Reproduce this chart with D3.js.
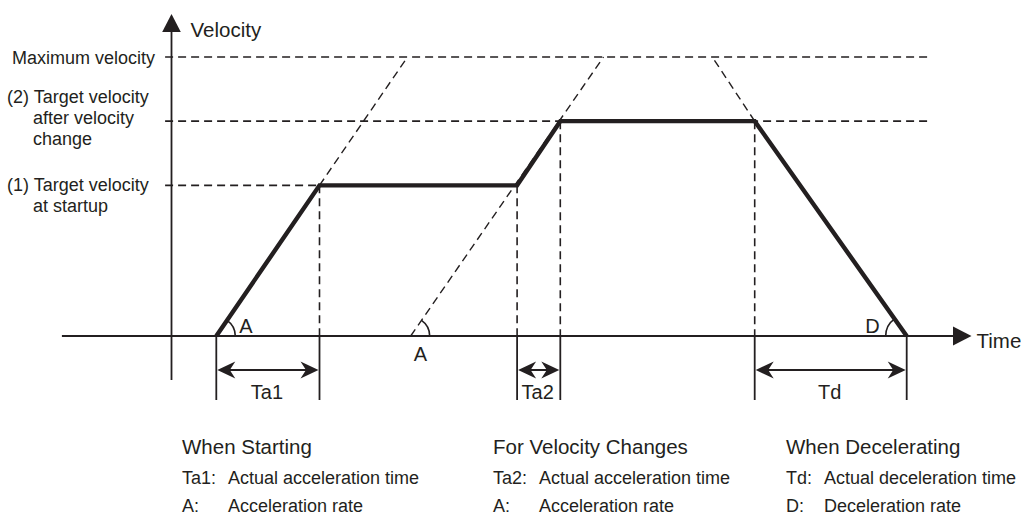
<!DOCTYPE html>
<html>
<head>
<meta charset="utf-8">
<script src="https://cdn.jsdelivr.net/npm/d3@7"></script>
<style>
  html, body { margin: 0; padding: 0; background: #ffffff; }
  svg { display: block; }
  text { font-family: "Liberation Sans", Arial, Helvetica, sans-serif; fill: #231f20; }
</style>
</head>
<body>
<svg id="chart" width="1021" height="515"></svg>
<script>
// ---------------- data ----------------
// time axis: 0 at velocity axis, 100 at time-arrow tip; velocity: 0 at time axis, 100 = maximum velocity
const timeAxisExtent = [-13.7, 100];
const velocityAxisExtent = [-15.8, 115.4];

const levelValues = [100, 77, 54];
const levelLabels = [
  ["Maximum velocity"],
  ["(2) Target velocity", "after velocity", "change"],
  ["(1) Target velocity", "at startup"]
];
const levelStartTime = [-0.8, -0.8, -0.8];
const levelEndTime = [94.6, 94.6, 18.5];

const profileTime = [5.6, 18.5, 43.2, 48.6, 72.9, 91.9];
const profileVelocity = [0, 54, 54, 77, 77, 0];

// dashed extensions of the acceleration / deceleration slopes
const slopeTime = [[18.5, 29.5], [29.9, 54.0], [72.9, 67.6]];
const slopeVelocity = [[54, 100], [0, 100], [77, 100]];

// dashed vertical drop lines
const dropTime = [18.5, 43.2, 48.6, 72.9];
const dropVelocity = [54, 54, 77, 77];

// dimensioned time intervals
const intervalNames = ["Ta1", "Ta2", "Td"];
const intervalStart = [5.6, 43.2, 72.9];
const intervalEnd = [18.5, 48.6, 91.9];

// angle marks
const angleNames = ["A", "A", "D"];
const angleTime = [5.6, 29.9, 91.9];
const angleTowardTime = [18.5, 54.0, 72.9];
const angleTowardVelocity = [54, 100, 77];

// legend below the chart
const legendTitles = ["When Starting", "For Velocity Changes", "When Decelerating"];
const legendKeys = [["Ta1:", "A:"], ["Ta2:", "A:"], ["Td:", "D:"]];
const legendTexts = [
  ["Actual acceleration time", "Acceleration rate"],
  ["Actual acceleration time", "Acceleration rate"],
  ["Actual deceleration time", "Deceleration rate"]
];

// ---------------- drawing ----------------
const ink = "#231f20";
const svg = d3.select("#chart");

const x = d3.scaleLinear().domain([0, 100]).range([171.5, 971.5]);
const y = d3.scaleLinear().domain([0, 100]).range([336, 57]);

const dash = "8,5";

// horizontal level dashed lines
levelValues.forEach((v, i) => {
  svg.append("line")
    .attr("x1", x(levelStartTime[i])).attr("x2", x(levelEndTime[i]))
    .attr("y1", y(v)).attr("y2", y(v))
    .attr("stroke", ink).attr("stroke-width", 1.6).attr("stroke-dasharray", dash);
});

// slope extension dashed lines
slopeTime.forEach((ts, i) => {
  svg.append("line")
    .attr("x1", x(ts[0])).attr("y1", y(slopeVelocity[i][0]))
    .attr("x2", x(ts[1])).attr("y2", y(slopeVelocity[i][1]))
    .attr("stroke", ink).attr("stroke-width", 1.4).attr("stroke-dasharray", dash);
});

// vertical drop dashed lines
dropTime.forEach((t, i) => {
  svg.append("line")
    .attr("x1", x(t)).attr("x2", x(t))
    .attr("y1", y(dropVelocity[i])).attr("y2", y(0))
    .attr("stroke", ink).attr("stroke-width", 1.6).attr("stroke-dasharray", dash);
});

// axes
svg.append("line")
  .attr("x1", x(timeAxisExtent[0])).attr("x2", x(timeAxisExtent[1]) - 10)
  .attr("y1", y(0)).attr("y2", y(0))
  .attr("stroke", ink).attr("stroke-width", 1.8);
svg.append("path")
  .attr("d", `M${x(timeAxisExtent[1])},${y(0)} L${x(timeAxisExtent[1]) - 18.5},${y(0) - 9.5} L${x(timeAxisExtent[1]) - 18.5},${y(0) + 9.5} Z`)
  .attr("fill", ink);

svg.append("line")
  .attr("x1", x(0)).attr("x2", x(0))
  .attr("y1", y(velocityAxisExtent[1]) + 10).attr("y2", y(velocityAxisExtent[0]))
  .attr("stroke", ink).attr("stroke-width", 1.8);
svg.append("path")
  .attr("d", `M${x(0)},${y(velocityAxisExtent[1])} L${x(0) - 9.3},${y(velocityAxisExtent[1]) + 18} L${x(0) + 9.3},${y(velocityAxisExtent[1]) + 18} Z`)
  .attr("fill", ink);

svg.append("text").attr("x", x(0) + 19).attr("y", y(velocityAxisExtent[1]) + 23)
  .style("font-size", "20.5px").text("Velocity");
svg.append("text").attr("x", x(timeAxisExtent[1]) + 5).attr("y", y(0) + 12)
  .style("font-size", "20.5px").text("Time");

// level labels
levelLabels.forEach((lines, i) => {
  const yc = y(levelValues[i]);
  if (lines.length === 1) {
    svg.append("text").attr("x", 155).attr("y", yc + 7)
      .attr("text-anchor", "end").style("font-size", "18px").text(lines[0]);
  } else {
    const base = i === 1 ? yc - 18 : yc + 6;
    lines.forEach((ln, k) => {
      svg.append("text").attr("x", k === 0 ? 7 : 33).attr("y", base + k * 21)
        .style("font-size", "18px").text(ln);
    });
  }
});

// velocity profile (thick)
const line = d3.line().x((d, i) => x(profileTime[i])).y((d, i) => y(profileVelocity[i]));
svg.append("path")
  .attr("d", line(profileTime))
  .attr("fill", "none").attr("stroke", ink).attr("stroke-width", 4.4)
  .attr("stroke-linejoin", "miter");

// extension lines under the axis
const extBottom = y(0) + 64;
const extTimes = Array.from(new Set([...intervalStart, ...intervalEnd]));
extTimes.forEach(t => {
  svg.append("line")
    .attr("x1", x(t)).attr("x2", x(t))
    .attr("y1", y(0)).attr("y2", extBottom)
    .attr("stroke", ink).attr("stroke-width", 1.8);
});

// dimension arrows
function arrowHead(tx, ty, dir) {
  // dir = +1 pointing right, -1 pointing left
  const L = 18, N = 12.5, Wd = 8.5;
  return `M${tx},${ty} L${tx - dir * L},${ty - Wd} L${tx - dir * N},${ty} L${tx - dir * L},${ty + Wd} Z`;
}
const dimY = y(0) + 34;
intervalNames.forEach((nm, i) => {
  const x0 = x(intervalStart[i]) + 1, x1 = x(intervalEnd[i]) - 1;
  svg.append("line").attr("x1", x0 + 8).attr("x2", x1 - 8)
    .attr("y1", dimY).attr("y2", dimY)
    .attr("stroke", ink).attr("stroke-width", 2);
  svg.append("path").attr("d", arrowHead(x0, dimY, -1)).attr("fill", ink);
  svg.append("path").attr("d", arrowHead(x1, dimY, 1)).attr("fill", ink);
  svg.append("text")
    .attr("x", (x(intervalStart[i]) + x(intervalEnd[i])) / 2 - 1)
    .attr("y", y(0) + 63)
    .attr("text-anchor", "middle").style("font-size", "20px").text(nm);
});

// angle arcs and labels
angleNames.forEach((nm, i) => {
  const cx = x(angleTime[i]), cy = y(0);
  const tx = x(angleTowardTime[i]), ty = y(angleTowardVelocity[i]);
  const a = Math.atan2(ty - cy, tx - cx);
  const p = d3.path();
  let r;
  if (tx > cx) {
    r = 19;
    p.moveTo(cx + r * Math.cos(a), cy + r * Math.sin(a));
    p.arc(cx, cy, r, a, 0, false);
  } else {
    r = 21;
    const aa = a + 2 * Math.PI;
    p.moveTo(cx - r, cy);
    p.arc(cx, cy, r, Math.PI, aa, false);
  }
  svg.append("path").attr("d", p.toString())
    .attr("fill", "none").attr("stroke", ink).attr("stroke-width", 1.6);
  const t = svg.append("text").style("font-size", "20px").text(nm);
  if (i === 0) t.attr("x", cx + 23).attr("y", cy - 3);
  else if (i === 1) t.attr("x", cx + 3).attr("y", cy + 25);
  else t.attr("x", cx - 27).attr("y", cy - 3).attr("text-anchor", "end");
});

// legend
const legendX = [182, 493, 786];
const descOffset = [46, 46, 38];
legendTitles.forEach((ttl, i) => {
  svg.append("text").attr("x", legendX[i]).attr("y", 454)
    .style("font-size", "20.5px").text(ttl);
  legendKeys[i].forEach((k, j) => {
    const yy = 484 + j * 27.5;
    svg.append("text").attr("x", legendX[i]).attr("y", yy).style("font-size", "18px").text(k);
    svg.append("text").attr("x", legendX[i] + descOffset[i]).attr("y", yy).style("font-size", "18px").text(legendTexts[i][j]);
  });
});
</script>
</body>
</html>
